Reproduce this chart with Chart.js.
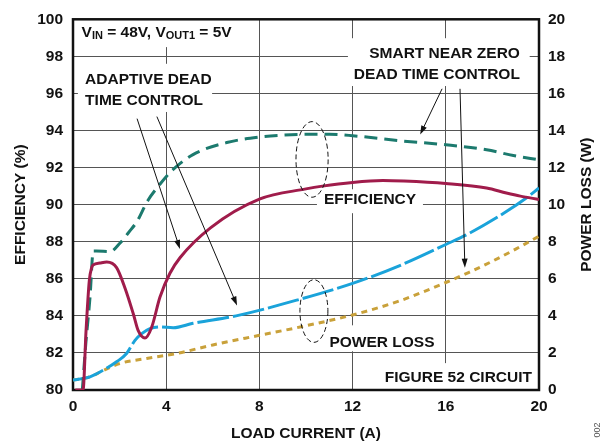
<!DOCTYPE html>
<html>
<head>
<meta charset="utf-8">
<script src="https://cdn.jsdelivr.net/npm/chart.js@4"></script>
<style>
  html, body { margin: 0; padding: 0; background: #fff; }
  canvas { display: block; }
</style>
</head>
<body>
<canvas id="chart" width="614" height="443"></canvas>
<script>
// Efficiency, smart near zero dead time control (%)
const smartEffX = [0.4, 0.55, 0.73, 0.87, 1.0, 1.6, 2.0, 2.45, 2.75, 3.2, 3.73, 4.3, 5.15, 6.6, 8.0, 9.0, 10.3, 11.0, 12.0, 14.0, 16.0, 17.75, 18.9, 20.0];
const smartEff = [80.0, 82.5, 85.0, 87.5, 87.5, 87.47, 87.9, 88.6, 89.1, 90.2, 91.1, 91.9, 92.7, 93.35, 93.65, 93.75, 93.8, 93.8, 93.72, 93.45, 93.23, 92.96, 92.65, 92.42];

// Efficiency, adaptive dead time control (%)
const adaptEffX = [0.1, 0.43, 0.56, 0.7, 0.8, 0.87, 1.16, 1.45, 1.87, 2.23, 2.59, 2.8, 3.09, 3.38, 3.73, 4.16, 4.6, 5.9, 8.0, 10.0, 10.7, 12.0, 13.3, 14.2, 16.0, 17.75, 18.6, 19.2, 20.0];
const adaptEff = [80.0, 80.0, 83.2, 85.9, 86.6, 86.75, 86.85, 86.9, 86.6, 85.5, 84.1, 83.2, 82.8, 83.4, 85.0, 86.3, 87.15, 88.75, 90.3, 90.85, 91.0, 91.2, 91.3, 91.27, 91.14, 90.9, 90.63, 90.46, 90.28];

// Power loss, adaptive dead time control (W)
const adaptLossX = [0.0, 0.73, 1.3, 1.87, 2.3, 2.66, 2.95, 3.3, 3.73, 4.3, 5.15, 7.0, 9.75, 12.0, 14.0, 16.0, 17.0, 18.5, 19.5, 20.0];
const adaptLoss = [0.54, 0.71, 1.07, 1.52, 1.97, 2.68, 3.04, 3.31, 3.4, 3.36, 3.6, 4.0, 4.9, 5.75, 6.7, 7.85, 8.45, 9.55, 10.4, 10.9];

// Power loss, smart near zero dead time control (W)
const smartLossX = [0.0, 0.7, 1.3, 2.0, 3.16, 4.45, 6.0, 8.0, 9.75, 12.0, 14.0, 16.0, 17.0, 18.0, 19.0, 20.0];
const smartLoss = [0.54, 0.7, 1.05, 1.43, 1.7, 1.97, 2.43, 2.95, 3.4, 4.05, 4.8, 5.8, 6.35, 6.95, 7.6, 8.3];

const xTicks = [0, 4, 8, 12, 16, 20];
const effTicks = [80, 82, 84, 86, 88, 90, 92, 94, 96, 98, 100];
const lossTicks = [0, 2, 4, 6, 8, 10, 12, 14, 16, 18, 20];

const FONT = '"Liberation Sans", Arial, sans-serif';
const toPts = (xs, ys) => xs.map((v, i) => ({ x: v, y: ys[i] }));

// annotation layout, in data units (x: A, y: %)
const whiteBoxes = [
    [0, 7.6, 100, 98.5],        // VIN label
    [0.21, 5.97, 97.6, 95.0],   // adaptive label
    [11.8, 19.6, 98.98, 96.4],  // smart label
    [10.47, 15.02, 90.83, 89.54],
    [10.82, 15.75, 83.49, 82.09],
    [13.18, 20, 81.45, 80]
];
const arrows = [
    [2.75, 94.64, 4.59, 87.61],
    [3.6, 94.75, 7.04, 84.56],
    [15.84, 96.25, 14.9, 93.78],
    [16.61, 96.25, 16.82, 86.6]
];
const ellipses = [
    [10.26, 92.44, 0.69, 2.04],
    [10.34, 84.26, 0.6, 1.69]
];

const drawArrow = (ctx, x0, y0, x1, y1) => {
    const ang = Math.atan2(y1 - y0, x1 - x0);
    const len = 9, hw = 3;
    ctx.beginPath();
    ctx.moveTo(x0, y0);
    ctx.lineTo(x1 - Math.cos(ang) * len * 0.8, y1 - Math.sin(ang) * len * 0.8);
    ctx.stroke();
    ctx.beginPath();
    ctx.moveTo(x1, y1);
    ctx.lineTo(x1 - Math.cos(ang) * len - Math.sin(ang) * hw, y1 - Math.sin(ang) * len + Math.cos(ang) * hw);
    ctx.lineTo(x1 - Math.cos(ang) * len + Math.sin(ang) * hw, y1 - Math.sin(ang) * len - Math.cos(ang) * hw);
    ctx.closePath();
    ctx.fill();
};

// draws text runs with subscripts, starting at left
const drawRuns = (ctx, runs, left, cy) => {
    let px = left;
    runs.forEach(([txt, sub]) => {
        ctx.font = `bold ${sub ? 11 : 15.5}px ${FONT}`;
        ctx.fillText(txt, px, cy + (sub ? 4 : 0));
        px += ctx.measureText(txt).width;
    });
};

const notesPlugin = {
    id: 'notes',
    beforeDatasetsDraw(chart) {
        const { ctx, chartArea: a, scales: { x, y } } = chart;
        ctx.save();
        ctx.fillStyle = '#fff';
        whiteBoxes.forEach(b => {
            const x0 = x.getPixelForValue(b[0]), x1 = x.getPixelForValue(b[1]);
            const y0 = y.getPixelForValue(b[2]), y1 = y.getPixelForValue(b[3]);
            ctx.fillRect(x0, y0, x1 - x0, y1 - y0);
        });
        ctx.strokeStyle = '#111';
        ctx.lineWidth = 2.5;
        ctx.strokeRect(a.left, a.top, a.right - a.left, a.bottom - a.top);
        ctx.restore();
    },
    afterDatasetsDraw(chart) {
        const { ctx, scales: { x, y } } = chart;
        const px = v => x.getPixelForValue(v);
        const py = v => y.getPixelForValue(v);
        ctx.save();
        ctx.fillStyle = '#111';
        ctx.strokeStyle = '#111';
        ctx.textBaseline = 'middle';

        drawRuns(ctx, [['V'], ['IN', true], [' = 48V, V'], ['OUT1', true], [' = 5V']], px(0.37), py(99.3));

        ctx.font = `bold 15.5px ${FONT}`;
        ctx.textAlign = 'left';
        ctx.fillText('ADAPTIVE DEAD', px(0.52), py(96.76));
        ctx.fillText('TIME CONTROL', px(0.52), py(95.63));
        ctx.textAlign = 'right';
        ctx.fillText('SMART NEAR ZERO', px(19.18), py(98.12));
        ctx.fillText('DEAD TIME CONTROL', px(19.18), py(97.02));
        ctx.fillText('FIGURE 52 CIRCUIT', px(19.7), py(80.64));
        ctx.textAlign = 'center';
        ctx.fillText('EFFICIENCY', px(12.75), py(90.24));
        ctx.fillText('POWER LOSS', px(13.26), py(82.57));

        ctx.lineWidth = 1;
        arrows.forEach(a => drawArrow(ctx, px(a[0]), py(a[1]), px(a[2]), py(a[3])));

        ctx.setLineDash([5, 3]);
        ellipses.forEach(e => {
            ctx.beginPath();
            ctx.ellipse(px(e[0]), py(e[1]), px(e[0] + e[2]) - px(e[0]), py(e[1]) - py(e[1] + e[3]), 0, 0, Math.PI * 2);
            ctx.stroke();
        });
        ctx.restore();
    },
    afterDraw(chart) {
        const { ctx, chartArea: a } = chart;
        const midY = (a.top + a.bottom) / 2;
        ctx.save();
        ctx.fillStyle = '#111';
        ctx.textAlign = 'center';
        ctx.textBaseline = 'middle';
        ctx.font = `bold 15.5px ${FONT}`;
        ctx.fillText('LOAD CURRENT (A)', (a.left + a.right) / 2, 433.5);
        [['EFFICIENCY (%)', 21], ['POWER LOSS (W)', 587]].forEach(([t, cx]) => {
            ctx.save();
            ctx.translate(cx, midY);
            ctx.rotate(-Math.PI / 2);
            ctx.fillText(t, 0, 0);
            ctx.restore();
        });
        ctx.font = `9px ${FONT}`;
        ctx.fillStyle = '#555';
        ctx.translate(598, 430);
        ctx.rotate(-Math.PI / 2);
        ctx.fillText('002', 0, 0);
        ctx.restore();
    }
};

const tickFont = { family: FONT, size: 15.5, weight: 'bold' };
const lineBase = {
    fill: false,
    pointRadius: 0,
    borderWidth: 3,
    cubicInterpolationMode: 'monotone',
    borderCapStyle: 'butt'
};

new Chart(document.getElementById('chart'), {
    type: 'line',
    data: {
        datasets: [
            { ...lineBase, label: 'Efficiency adaptive', data: toPts(adaptEffX, adaptEff), borderColor: '#a01c4b', yAxisID: 'y' },
            { ...lineBase, label: 'Efficiency smart', data: toPts(smartEffX, smartEff), borderColor: '#1c7a6e', borderDash: [13, 7], yAxisID: 'y' },
            { ...lineBase, label: 'Power loss adaptive', data: toPts(adaptLossX, adaptLoss), borderColor: '#1aa3da', borderDash: [32, 4], yAxisID: 'y1' },
            { ...lineBase, label: 'Power loss smart', data: toPts(smartLossX, smartLoss), borderColor: '#c9a13a', borderDash: [6, 5], yAxisID: 'y1' }
        ]
    },
    options: {
        responsive: false,
        devicePixelRatio: 1,
        animation: false,
        layout: { padding: { top: 17, left: 0, right: 0, bottom: 0 } },
        plugins: { legend: { display: false }, tooltip: { enabled: false } },
        scales: {
            x: {
                type: 'linear',
                min: 0,
                max: 20,
                afterBuildTicks: s => { s.ticks = xTicks.map(v => ({ value: v })); },
                afterFit: s => { s.height = 53; },
                grid: { color: '#555', lineWidth: 1, drawTicks: false },
                border: { display: false },
                ticks: { font: tickFont, color: '#111', padding: 7, maxRotation: 0 }
            },
            y: {
                position: 'left',
                min: 80,
                max: 100,
                afterBuildTicks: s => { s.ticks = effTicks.map(v => ({ value: v })); },
                afterFit: s => { s.width = 73; },
                grid: { color: '#555', lineWidth: 1, drawTicks: false },
                border: { display: false },
                ticks: { font: tickFont, color: '#111', padding: 10 }
            },
            y1: {
                position: 'right',
                min: 0,
                max: 20,
                afterBuildTicks: s => { s.ticks = lossTicks.map(v => ({ value: v })); },
                afterFit: s => { s.width = 75; },
                grid: { drawOnChartArea: false, drawTicks: false },
                border: { display: false },
                ticks: { font: tickFont, color: '#111', padding: 9 }
            }
        }
    },
    plugins: [notesPlugin]
});
</script>
</body>
</html>
